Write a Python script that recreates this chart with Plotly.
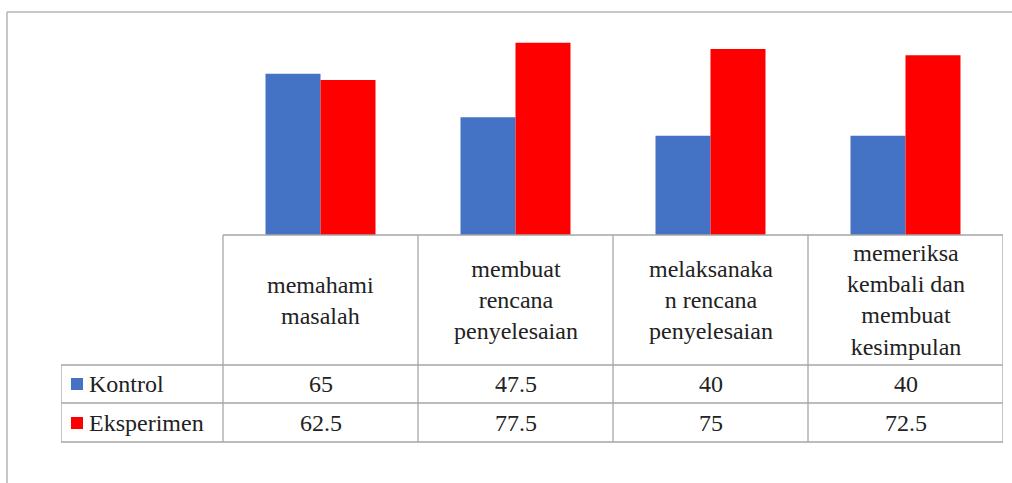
import plotly.graph_objects as go

categories = ["memahami<br>masalah",
              "membuat<br>rencana<br>penyelesaian",
              "melaksanaka<br>n rencana<br>penyelesaian",
              "memeriksa<br>kembali dan<br>membuat<br>kesimpulan"]
series_names = ["Kontrol", "Eksperimen"]
kontrol = [65, 47.5, 40, 40]
eksperimen = [62.5, 77.5, 75, 72.5]
colors = ["#4472C4", "#FF0000"]

W, H = 1012, 483
def py(px):
    return 1 - px / H

FONT = "Liberation Serif"
FS = 24
TXT = "#222222"
LINE = "#a6a6a6"

xs = list(range(len(categories)))
fig = go.Figure()
for name, vals, c in zip(series_names, [kontrol, eksperimen], colors):
    fig.add_trace(go.Bar(x=xs, y=vals, name=name, marker=dict(color=c, line=dict(width=0)),
                         showlegend=False, hoverinfo="skip"))

left_edge = -0.5 - 162.0 / 195.0
fig.update_layout(
    width=W, height=H, margin=dict(l=0, r=0, t=0, b=0),
    paper_bgcolor="white", plot_bgcolor="rgba(0,0,0,0)",
    barmode="group", bargap=0.436, bargroupgap=0,
    xaxis=dict(range=[left_edge, 3.5], domain=[61 / W, 1003 / W], visible=False, fixedrange=True),
    yaxis=dict(range=[0, 80], domain=[py(235), py(235 - 80 * 2.48)], visible=False, fixedrange=True),
)

shapes = []
# outer border (top and left)
shapes.append(dict(type="line", xref="paper", yref="paper", x0=7 / W, x1=1.01, y0=py(12), y1=py(12),
                   line=dict(color="#b4b4b4", width=1.5)))
shapes.append(dict(type="line", xref="paper", yref="paper", x0=7 / W, x1=7 / W, y0=py(12), y1=-0.01,
                   line=dict(color="#b4b4b4", width=1.5)))

row_tops = [235, 365, 403, 442]
shapes.append(dict(type="line", xref="x", yref="paper", x0=-0.5, x1=3.5, y0=py(235), y1=py(235),
                   line=dict(color=LINE, width=1.3)))
for ry in row_tops[1:]:
    shapes.append(dict(type="line", xref="x", yref="paper", x0=left_edge, x1=3.5, y0=py(ry), y1=py(ry),
                       line=dict(color=LINE, width=1.3)))
shapes.append(dict(type="line", xref="x", yref="paper", x0=left_edge, x1=left_edge, y0=py(365), y1=py(442),
                   line=dict(color=LINE, width=1.3)))
for i in range(len(categories) + 1):
    xv = i - 0.5
    shapes.append(dict(type="line", xref="x", yref="paper", x0=xv, x1=xv, y0=py(235), y1=py(442),
                       line=dict(color=LINE, width=1.3)))

annotations = []
for i, cat in enumerate(categories):
    annotations.append(dict(x=i, y=py(300), xref="x", yref="paper", text=cat, showarrow=False,
                            xanchor="center", yanchor="middle", align="center",
                            font=dict(family=FONT, size=FS, color=TXT)))

row_centers = [384, 423]
for r, (name, vals, c) in enumerate(zip(series_names, [kontrol, eksperimen], colors)):
    yc = row_centers[r]
    shapes.append(dict(type="rect", xref="paper", yref="paper", x0=71 / W, x1=83 / W,
                       y0=py(yc + 6), y1=py(yc - 6), fillcolor=c, line=dict(width=0)))
    annotations.append(dict(x=87 / W, y=py(yc), xref="paper", yref="paper", text=name, showarrow=False,
                            xanchor="left", yanchor="middle", font=dict(family=FONT, size=FS, color=TXT)))
    for i, v in enumerate(vals):
        annotations.append(dict(x=i, y=py(yc), xref="x", yref="paper", text=f"{v:g}", showarrow=False,
                                xanchor="center", yanchor="middle", font=dict(family=FONT, size=FS, color=TXT)))

fig.update_layout(shapes=shapes, annotations=annotations)
fig.write_html("out.html")
